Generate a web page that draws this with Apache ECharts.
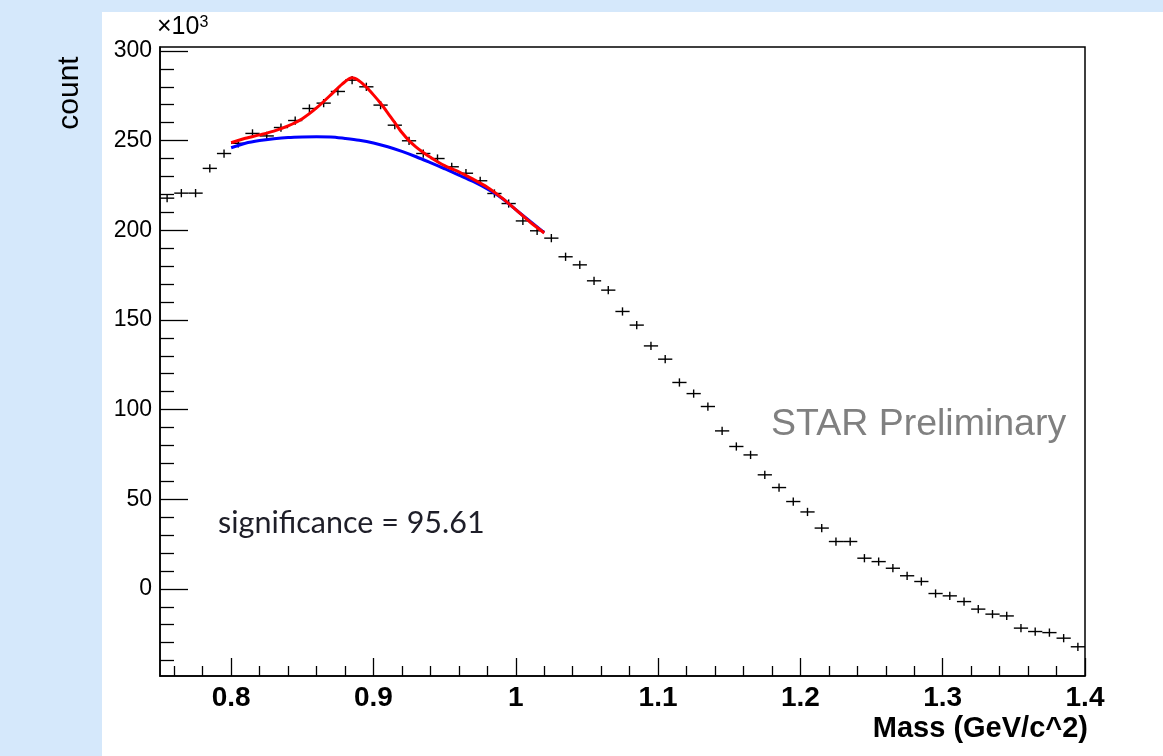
<!DOCTYPE html>
<html>
<head>
<meta charset="utf-8">
<script src="https://cdn.jsdelivr.net/npm/echarts@6/dist/echarts.min.js"></script>
<style>
html,body{margin:0;padding:0;width:1163px;height:756px;background:#d5e8fb;overflow:hidden;}
#sheet{position:absolute;left:102px;top:12px;width:1061px;height:744px;background:#ffffff;}
#chart{position:absolute;left:0;top:0;width:1163px;height:756px;}
</style>
</head>
<body>
<div id="sheet"></div>
<div id="chart"></div>
<script>
// ---- data (counts in units of 10^3) ----
var binCenters = [0.755,0.765,0.775,0.785,0.795,0.805,0.815,0.825,0.835,0.845,0.855,0.865,0.875,0.885,0.895,0.905,0.915,0.925,0.935,0.945,0.955,0.965,0.975,0.985,0.995,1.005,1.015,1.025,1.035,1.045,1.055,1.065,1.075,1.085,1.095,1.105,1.115,1.125,1.135,1.145,1.155,1.165,1.175,1.185,1.195,1.205,1.215,1.225,1.235,1.245,1.255,1.265,1.275,1.285,1.295,1.305,1.315,1.325,1.335,1.345,1.355,1.365,1.375,1.385,1.395];
var counts = [217.9,220.7,220.7,234.5,242.8,248.5,254.0,252.6,257.3,261.2,267.9,270.9,277.4,283.7,280.0,269.8,258.6,249.9,242.8,240.0,235.4,231.8,227.6,220.5,214.9,205.2,199.7,195.6,185.2,180.7,171.8,166.6,154.7,147.1,135.5,128.1,115.1,108.9,101.7,88.1,79.4,74.7,63.6,56.5,48.7,42.9,33.9,26.4,26.4,17.1,15.2,11.5,7.3,4.1,-2.6,-3.9,-7.1,-11.3,-14.1,-15.1,-21.9,-23.8,-24.4,-27.5,-32.3];
var halfBin = 0.005;
var countErr = 2.3;

var fitX = [0.800,0.810,0.820,0.830,0.840,0.850,0.860,0.870,0.878,0.885,0.890,0.895,0.900,0.905,0.910,0.915,0.920,0.925,0.930,0.935,0.940,0.950,0.960,0.970,0.980,0.990,1.000,1.010,1.020];
var fitY = [248.8,251.3,253.2,255.3,258.2,262.2,268.2,275.5,281.5,285.0,283.3,279.8,275.5,270.8,265.5,260.0,254.5,250.0,246.4,243.4,240.7,236.0,232.6,228.5,224.0,218.2,211.5,204.6,198.5];

var bkgX = [0.800,0.810,0.820,0.830,0.840,0.850,0.860,0.870,0.880,0.890,0.900,0.910,0.920,0.930,0.940,0.950,0.960,0.970,0.980,0.990,1.000,1.010,1.020];
var bkgY = [246.0,248.5,250.0,251.0,251.7,252.0,252.1,252.0,251.2,250.2,248.7,246.6,244.0,241.0,237.7,234.3,230.8,227.2,223.0,218.0,211.5,205.0,198.7];

var xMajorTicks = [0.8,0.9,1.0,1.1,1.2,1.3,1.4];
var xMinorTicks = [0.76,0.78,0.82,0.84,0.86,0.88,0.92,0.94,0.96,0.98,1.02,1.04,1.06,1.08,1.12,1.14,1.16,1.18,1.22,1.24,1.26,1.28,1.32,1.34,1.36,1.38];
var yMajorTicks = [0,50,100,150,200,250,300];
var yMinorTicks = [-40,-30,-20,-10,10,20,30,40,60,70,80,90,110,120,130,140,160,170,180,190,210,220,230,240,260,270,280,290];

var xRange = [0.75, 1.4];
var yRange = [-48.6, 302.2];

var pointData = binCenters.map(function(x, i){ return [x, counts[i]]; });
var fitData = fitX.map(function(x, i){ return [x, fitY[i]]; });
var bkgData = bkgX.map(function(x, i){ return [x, bkgY[i]]; });

var chart = echarts.init(document.getElementById('chart'), null, {renderer:'canvas'});
var axisFont = 'Liberation Sans, Arial, Helvetica, sans-serif';

var option = {
  backgroundColor: 'transparent',
  animation: false,
  grid: {left:160, right:78, top:47, bottom:80, show:true, backgroundColor:'#ffffff', borderColor:'#000000', borderWidth:1.5},
  xAxis: [{
    type:'value', min:xRange[0], max:xRange[1], position:'bottom',
    axisLine:{show:true, onZero:false, lineStyle:{color:'#000', width:1.5}},
    axisTick:{show:true, inside:true, length:18, customValues:xMajorTicks, lineStyle:{color:'#000', width:1.3}},
    axisLabel:{show:true, customValues:xMajorTicks, margin:8, color:'#000', fontFamily:axisFont, fontSize:28, fontWeight:'bold'},
    splitLine:{show:false},
    name:'Mass (GeV/c^2)', nameLocation:'end', nameGap:3,
    nameTextStyle:{align:'right', verticalAlign:'top', padding:[38,0,0,0], color:'#000', fontFamily:axisFont, fontSize:29, fontWeight:'bold'}
  },{
    type:'value', min:xRange[0], max:xRange[1], position:'bottom',
    axisLine:{show:false, onZero:false},
    axisTick:{show:true, inside:true, length:10, customValues:xMinorTicks, lineStyle:{color:'#000', width:1.3}},
    axisLabel:{show:false},
    splitLine:{show:false}
  }],
  yAxis: [{
    type:'value', min:yRange[0], max:yRange[1], position:'left',
    axisLine:{show:true, onZero:false, lineStyle:{color:'#000', width:1.5}},
    axisTick:{show:true, inside:true, length:28, customValues:yMajorTicks, lineStyle:{color:'#000', width:1.3}},
    axisLabel:{show:true, customValues:yMajorTicks, margin:8, color:'#000', fontFamily:axisFont, fontSize:23},
    splitLine:{show:false}
  },{
    type:'value', min:yRange[0], max:yRange[1], position:'left',
    axisLine:{show:false, onZero:false},
    axisTick:{show:true, inside:true, length:14, customValues:yMinorTicks, lineStyle:{color:'#000', width:1.3}},
    axisLabel:{show:false},
    splitLine:{show:false}
  }],
  series: [{
    type:'custom', name:'data', xAxisIndex:0, yAxisIndex:0, z:2,
    data: pointData,
    encode:{x:0, y:1},
    renderItem: function(params, api){
      var x = api.value(0), y = api.value(1);
      var l = api.coord([x - halfBin, y]);
      var r = api.coord([x + halfBin, y]);
      var t = api.coord([x, y + countErr]);
      var b = api.coord([x, y - countErr]);
      return {type:'group', children:[
        {type:'line', shape:{x1:l[0], y1:l[1], x2:r[0], y2:r[1]}, style:{stroke:'#000', lineWidth:1.4}},
        {type:'line', shape:{x1:t[0], y1:t[1], x2:b[0], y2:b[1]}, style:{stroke:'#000', lineWidth:1.4}}
      ]};
    }
  },{
    type:'line', name:'background', xAxisIndex:0, yAxisIndex:0, z:3,
    data: bkgData, smooth:0.3, showSymbol:false, symbol:'none',
    lineStyle:{color:'#0000ff', width:3}
  },{
    type:'line', name:'fit', xAxisIndex:0, yAxisIndex:0, z:4,
    data: fitData, smooth:0.3, showSymbol:false, symbol:'none',
    lineStyle:{color:'#ff0000', width:3}
  }],
  graphic: [
    {type:'text', left:157, top:15, style:{text:'{b|×10}{s|3}',
      rich:{
        b:{fontSize:25, fontFamily:axisFont, fill:'#000', verticalAlign:'bottom'},
        s:{fontSize:16, fontFamily:axisFont, fill:'#000', verticalAlign:'top'}
      }}},
    {type:'text', x:70, y:93, rotation:Math.PI/2, style:{text:'count', fontSize:30, fontFamily:axisFont, fill:'#000', align:'center', verticalAlign:'middle'}},
    {type:'text', x:771, y:425, style:{text:'STAR Preliminary', fontSize:37.5, fontFamily:axisFont, fill:'#808080', align:'left', verticalAlign:'middle'}},
    {type:'text', x:218, y:523, style:{text:'significance = 95.61', fontSize:30.5, fontFamily:'Lato, Carlito, sans-serif', fill:'#1e1e28', align:'left', verticalAlign:'middle'}}
  ]
};
chart.setOption(option);
</script>
</body>
</html>
